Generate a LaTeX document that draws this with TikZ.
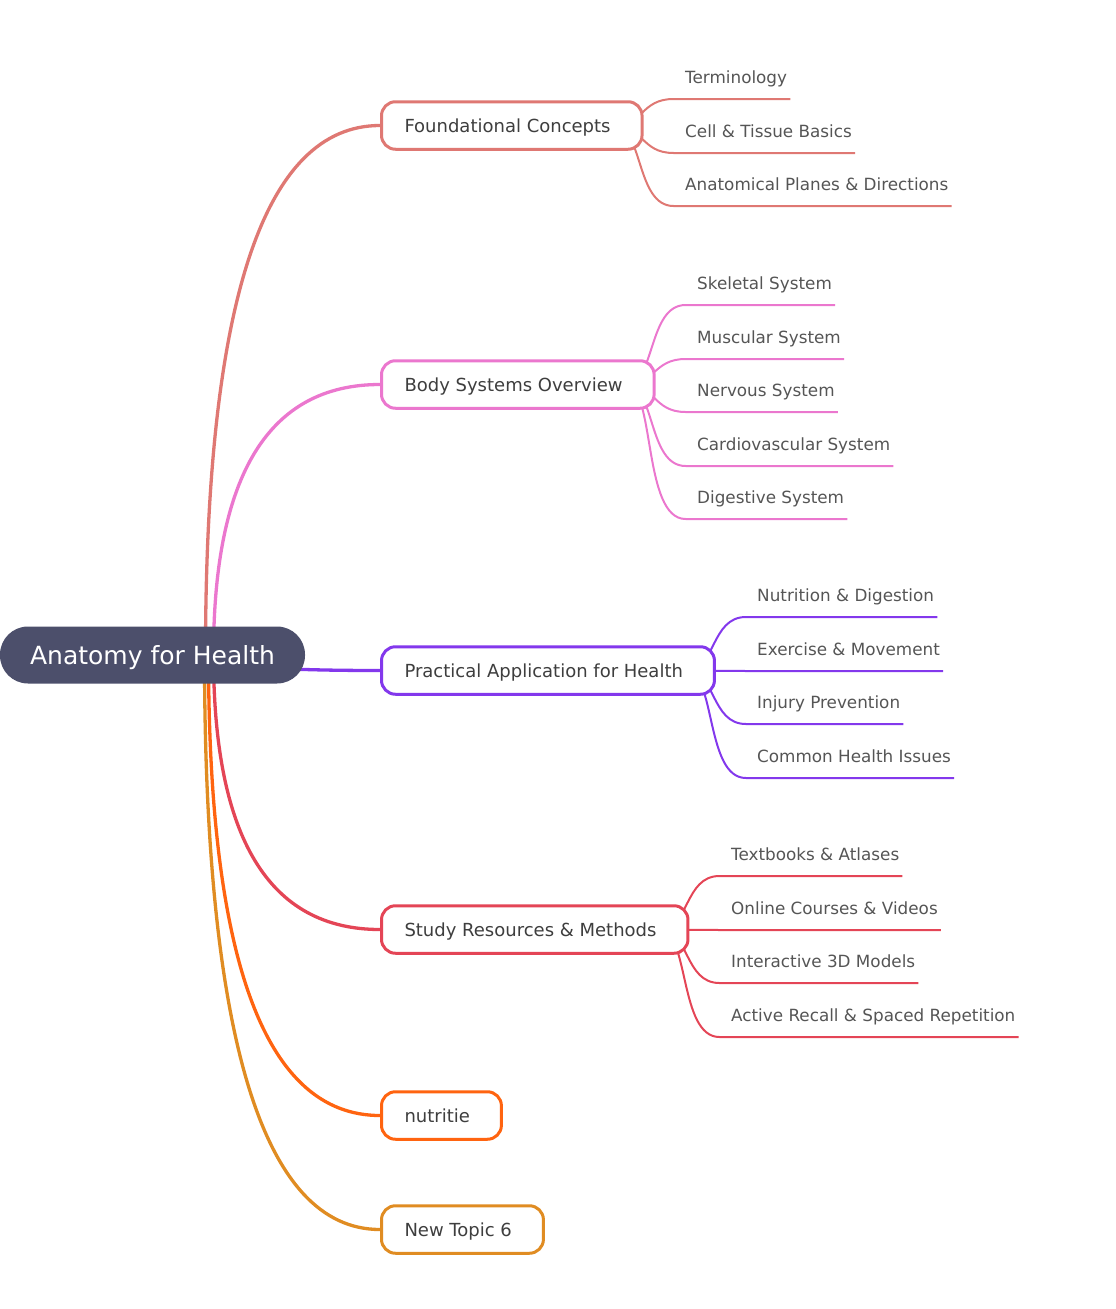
\documentclass[tikz,border=0pt]{standalone}
\usepackage{fontspec}
\setmainfont{DejaVu Sans}
\usetikzlibrary{calc,backgrounds}
\definecolor{rootc}{HTML}{4C4F6B}
\definecolor{found}{HTML}{DF7873}
\definecolor{body}{HTML}{EB77CE}
\definecolor{prac}{HTML}{8338EC}
\definecolor{study}{HTML}{E44556}
\definecolor{nutr}{HTML}{FF6410}
\definecolor{newt}{HTML}{E08C22}
\definecolor{topictext}{HTML}{3E3E3E}
\definecolor{leaftext}{HTML}{555555}
\tikzset{
  root/.style={fill=rootc,text=white,rounded corners=28pt,minimum width=305pt,minimum height=57pt,
    inner sep=0pt,text depth=0pt,font=\fontsize{25}{30}\selectfont},
  topic/.style={draw=#1,fill=white,line width=3pt,rounded corners=14pt,minimum height=47.5pt,
    inner xsep=23pt,text depth=0pt,anchor=west,text=topictext,font=\fontsize{18}{21}\selectfont,
    execute at end node=\hspace*{8.5pt}},
  leaf/.style={anchor=base west,yshift=16pt,inner sep=0pt,text=leaftext,font=\fontsize{16.8}{20}\selectfont},
  branch/.style={line width=3.3pt,draw=#1},
  twig/.style={line width=2pt,draw=#1}
}
% main branch: colour, x offset from root centre, topic
\newcommand{\mainline}[3]{%
  \coordinate (st) at ($(root.center)+(#2,0)$);
  \draw[branch=#1] (st) .. controls ($(st)!0.667!(st|-#3.west)$) and ($(#3.west)!0.667!(st|-#3.west)$) .. (#3.west);}
% sub branch: colour, topic, leaf
\newcommand{\twigline}[3]{%
  \draw[twig=#1] let \p1=(#2.east), \p3=(#3.base east), \p4=($(#3.base west)+(0,16)$),
    \n1={abs(\y4-\y1)/10} in
    (\x1-30pt,\y1) .. controls (\x1,\y1) and (\x1-\n1,\y4) .. (\x1+30pt,\y4) -- (\x3+3pt,\y4);}

\begin{document}
\begin{tikzpicture}[x=1pt,y=-1pt]
 \useasboundingbox (0,0) rectangle (1116,1309);
 \node[root] (root) at (152.5,655) {Anatomy for Health};
 % topics
 \node[topic=found] (fc) at (380,125.5) {Foundational Concepts};
 \node[topic=body] (bs) at (380,384.5) {Body Systems Overview};
 \node[topic=prac] (pa) at (380,670.5) {Practical Application for Health};
 \node[topic=study] (sr) at (380,929.5) {Study Resources \& Methods};
 \node[topic=nutr] (nu) at (380,1115.5) {nutritie};
 \node[topic=newt] (nt) at (380,1229.5) {New Topic 6};
 % leaves
 \node[leaf] (term) at (685,99) {Terminology};
 \node[leaf] (cell) at (685,153) {Cell \& Tissue Basics};
 \node[leaf] (plan) at (685,206) {Anatomical Planes \& Directions};
 \node[leaf] (skel) at (697,305) {Skeletal System};
 \node[leaf] (musc) at (697,359) {Muscular System};
 \node[leaf] (nerv) at (697,412) {Nervous System};
 \node[leaf] (card) at (697,466) {Cardiovascular System};
 \node[leaf] (dige) at (697,519) {Digestive System};
 \node[leaf] (nutd) at (757,617) {Nutrition \& Digestion};
 \node[leaf] (exer) at (757,671) {Exercise \& Movement};
 \node[leaf] (inju) at (757,724) {Injury Prevention};
 \node[leaf] (comm) at (757,778) {Common Health Issues};
 \node[leaf] (book) at (731,876) {Textbooks \& Atlases};
 \node[leaf] (onli) at (731,930) {Online Courses \& Videos};
 \node[leaf] (mode) at (731,983) {Interactive 3D Models};
 \node[leaf] (reca) at (731,1037) {Active Recall \& Spaced Repetition};
 \begin{scope}[on background layer]
  \mainline{found}{53}{fc}
  \mainline{body}{61}{bs}
  \mainline{prac}{58}{pa}
  \mainline{study}{61}{sr}
  \mainline{nutr}{56}{nu}
  \mainline{newt}{52}{nt}
  \twigline{found}{fc}{term}
  \twigline{found}{fc}{cell}
  \twigline{found}{fc}{plan}
  \twigline{body}{bs}{skel}
  \twigline{body}{bs}{musc}
  \twigline{body}{bs}{nerv}
  \twigline{body}{bs}{card}
  \twigline{body}{bs}{dige}
  \twigline{prac}{pa}{nutd}
  \twigline{prac}{pa}{exer}
  \twigline{prac}{pa}{inju}
  \twigline{prac}{pa}{comm}
  \twigline{study}{sr}{book}
  \twigline{study}{sr}{onli}
  \twigline{study}{sr}{mode}
  \twigline{study}{sr}{reca}
 \end{scope}
\end{tikzpicture}
\end{document}
